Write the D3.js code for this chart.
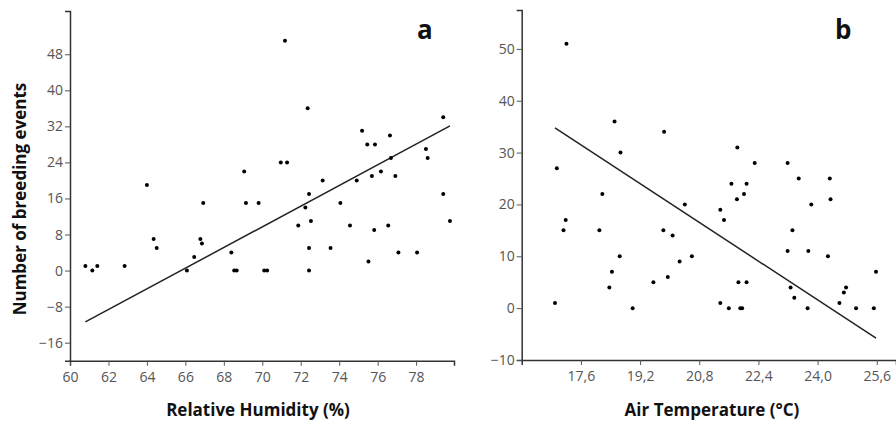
<!DOCTYPE html>
<html>
<head>
<meta charset="utf-8">
<script src="https://cdn.jsdelivr.net/npm/d3@7"></script>
<style>
  body { margin: 0; background: #fff; }
  svg { display: block; }
  .tick text { font-family: "Open Sans", sans-serif; font-size: 14px; fill: #555; }
  .title { font-family: "Open Sans", sans-serif; font-weight: bold; font-size: 17px; fill: #111; }
  .panel { font-family: "Open Sans", sans-serif; font-weight: bold; fill: #111; }
</style>
</head>
<body>
<svg width="896" height="423"></svg>
<script>
// panel a : relative humidity vs breeding events
const humidity = [60.8,61.16,61.42,62.84,64.0,64.35,64.51,66.08,66.46,66.78,66.86,66.93,68.39,68.54,68.67,
  69.06,69.15,69.81,70.1,70.25,70.96,71.29,71.18,72.36,72.24,72.43,72.53,72.43,72.43,71.87,73.14,73.55,
  74.06,74.56,74.91,75.19,75.46,75.86,75.52,75.7,75.82,76.17,76.64,76.69,76.55,76.92,77.08,78.05,78.51,
  78.6,79.41,79.41,79.76];
const eventsA = [1,0,1,1,19,7,5,0,3,7,6,15,4,0,0,22,15,15,0,0,24,24,51,36,14,17,11,5,0,10,20,5,
  15,10,20,31,28,28,2,21,9,22,30,25,10,21,4,4,27,25,34,17,11];
const fitAx = [60.8, 79.76];
const fitAy = [-11.4, 32.1];
const ticksA_x = [60,62,64,66,68,70,72,74,76,78];
const ticksA_y = [-16,-8,0,8,16,24,32,40,48];

// panel b : air temperature vs breeding events
const temperature = [16.9,16.95,17.13,17.19,17.21,18.1,18.18,18.37,18.44,18.51,18.65,18.67,19.0,19.56,
  19.83,19.85,19.95,20.08,20.27,20.41,20.6,21.37,21.37,21.47,21.6,21.67,21.83,21.82,21.86,21.91,21.96,
  22.01,22.08,22.08,22.3,23.19,23.19,23.27,23.32,23.37,23.49,23.73,23.75,23.83,24.28,24.33,24.35,24.59,
  24.71,24.77,25.04,25.52,25.58];
const eventsB = [1,27,15,17,51,15,22,4,7,36,10,30,0,5,15,34,6,14,9,20,10,19,1,17,0,24,31,21,5,0,0,
  22,24,5,28,28,11,4,15,2,25,0,11,20,10,25,21,1,3,4,0,0,7];
const fitBx = [16.9, 25.58];
const fitBy = [34.75, -5.78];
const ticksB_x = [17.6,19.2,20.8,22.4,24.0,25.6];
const ticksB_y = [-10,0,10,20,30,40,50];

const svg = d3.select("svg");
const comma = d => d3.format(".1f")(d).replace(".", ",");

function panel(cfg) {
  const x = d3.scaleLinear().domain(cfg.xd).range(cfg.xr);
  const y = d3.scaleLinear().domain(cfg.yd).range(cfg.yr);
  const g = svg.append("g");

  const ax = g.append("g").attr("transform", `translate(0,${cfg.yr[0]})`)
    .call(d3.axisBottom(x).tickValues(cfg.xt).tickFormat(cfg.xf).tickSizeOuter(0).tickSize(5).tickPadding(6));
  const ay = g.append("g").attr("transform", `translate(${cfg.xr[0]},0)`)
    .call(d3.axisLeft(y).tickValues(cfg.yt).tickSizeOuter(0).tickSize(5).tickPadding(2));
  [ax, ay].forEach(a => {
    a.select(".domain").attr("stroke", "#333").attr("stroke-width", 1.5);
    a.selectAll(".tick line").attr("stroke", "#555");
  });

  g.append("line")
    .attr("x1", x(cfg.fx[0])).attr("y1", y(cfg.fy[0]))
    .attr("x2", x(cfg.fx[1])).attr("y2", y(cfg.fy[1]))
    .attr("stroke", "#222").attr("stroke-width", 1.5);

  g.selectAll("circle").data(cfg.xs).enter().append("circle")
    .attr("cx", d => x(d)).attr("cy", (d, i) => y(cfg.ys[i]))
    .attr("r", 2).attr("fill", "#000");

  g.append("text").attr("class", "title").attr("text-anchor", "middle")
    .attr("x", cfg.titleX).attr("y", 416).text(cfg.title);
  g.append("text").attr("class", "panel").attr("x", cfg.labelX).attr("y", 39)
    .attr("font-size", 26).text(cfg.label);
}

panel({xd:[60,79.97], xr:[70,454], yd:[-20,57.6], yr:[360.7,11],
  xt:ticksA_x, yt:ticksA_y, xf:d3.format("d"),
  xs:humidity, ys:eventsA, fx:fitAx, fy:fitAy,
  title:"Relative Humidity (%)", titleX:258, label:"a", labelX:417});

panel({xd:[16,26.12], xr:[521.7,896], yd:[-10,57.5], yr:[360,10],
  xt:ticksB_x, yt:ticksB_y, xf:comma,
  xs:temperature, ys:eventsB, fx:fitBx, fy:fitBy,
  title:"Air Temperature (°C)", titleX:712, label:"b", labelX:835});

svg.append("text").attr("class", "title").attr("text-anchor", "middle")
  .attr("transform", "translate(26,199) rotate(-90)").text("Number of breeding events");
</script>
</body>
</html>
